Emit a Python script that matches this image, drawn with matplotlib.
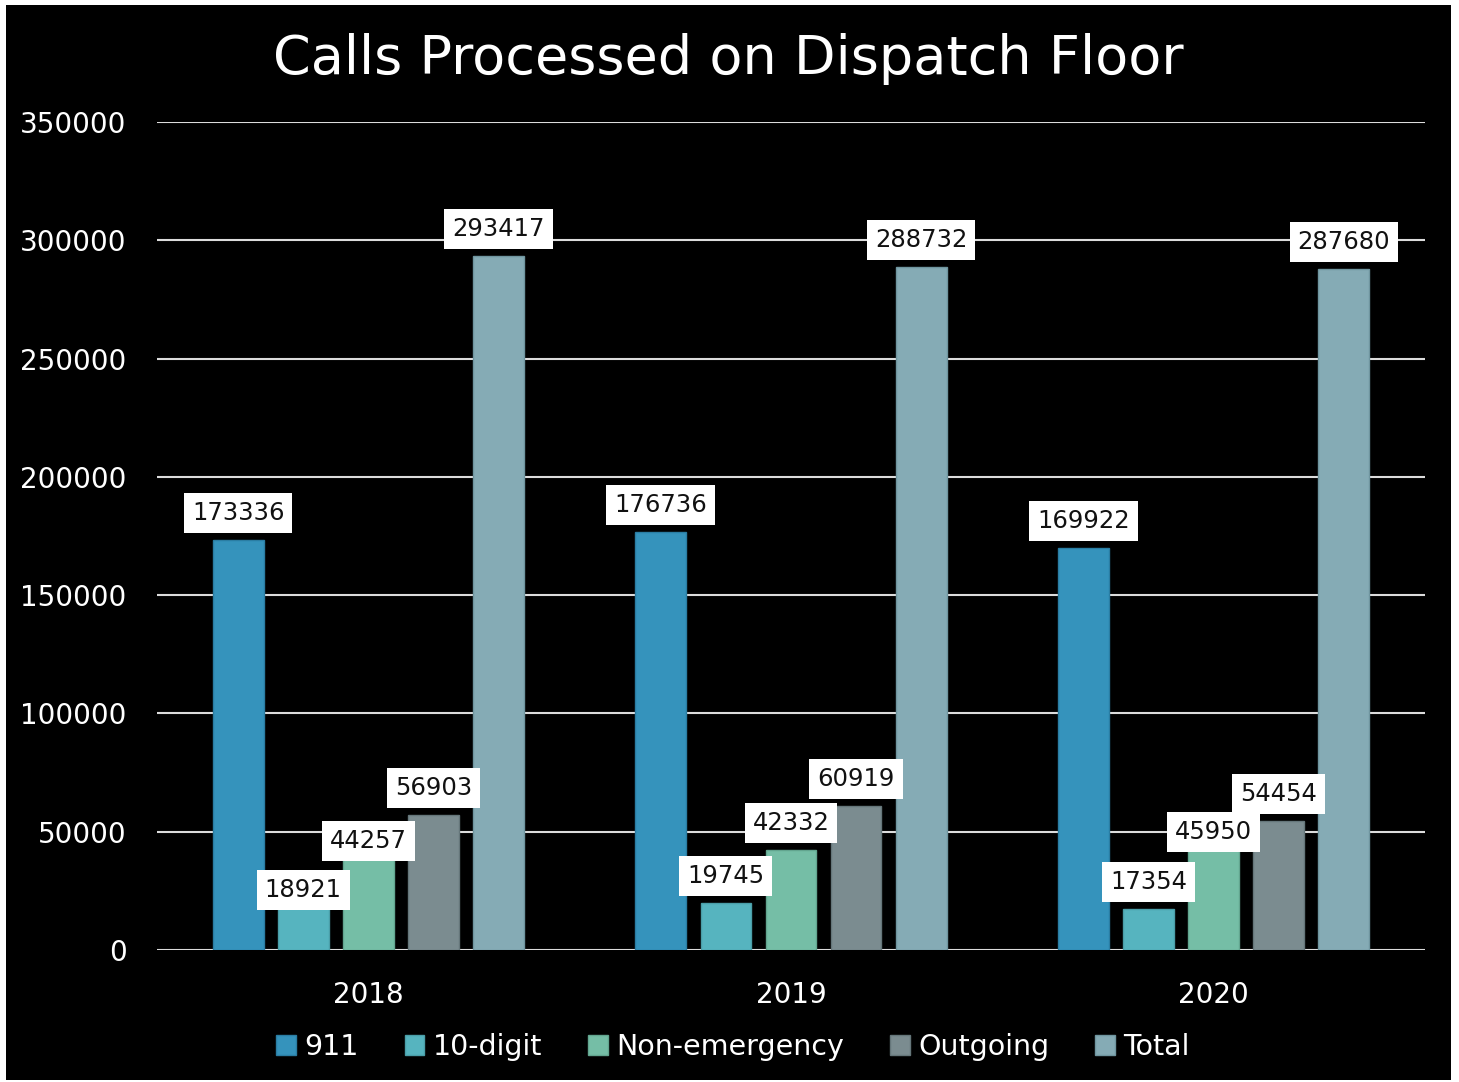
import matplotlib
matplotlib.use("Agg")
import matplotlib.pyplot as plt
from matplotlib.patches import Rectangle
import numpy as np

# Chart data
years = ["2018", "2019", "2020"]
series_names = ["911", "10-digit", "Non-emergency", "Outgoing", "Total"]
calls_911 = [173336, 176736, 169922]
calls_10digit = [18921, 19745, 17354]
calls_nonemerg = [44257, 42332, 45950]
calls_outgoing = [56903, 60919, 54454]
calls_total = [293417, 288732, 287680]
y_ticks = [0, 50000, 100000, 150000, 200000, 250000, 300000, 350000]

colors = ["#3593bc", "#56b4bf", "#75bea6", "#7b8c90", "#85abb5"]
edges = ["#2a7da3", "#4a9ea8", "#62a58f", "#65767a", "#6f959f"]

# label offsets (points above bar top) where the labels got pushed around
label_lift = {(1, 0): 11, (2, 0): 3, (2, 2): 7}
default_lift = 19.5

fig = plt.figure(figsize=(14.59, 10.82), dpi=100, facecolor="white")
# black chart area with thin white margin
fig.patches.append(Rectangle((6 / 1459, 2 / 1082), 1445 / 1459, 1075 / 1082,
                             transform=fig.transFigure, facecolor="black",
                             edgecolor="none", zorder=-10))

ax = fig.add_axes([157 / 1459, 1 - 950 / 1082, 1268 / 1459, 828 / 1082])
ax.set_facecolor("black")

x = np.arange(len(years))
width = 0.12
step = 0.154
all_series = [calls_911, calls_10digit, calls_nonemerg, calls_outgoing, calls_total]

for i, (vals, name) in enumerate(zip(all_series, series_names)):
    pos = x + (i - 2) * step
    ax.bar(pos, vals, width, color=colors[i], edgecolor=edges[i], linewidth=1,
           label=name, zorder=3)
    for j, (px, v) in enumerate(zip(pos, vals)):
        lift = label_lift.get((i, j), default_lift)
        ax.annotate(str(v), (px, v), xytext=(0, lift), textcoords="offset points",
                    ha="center", va="center", fontsize=17.5, color="#111111",
                    bbox=dict(boxstyle="square,pad=0.33", facecolor="white",
                              edgecolor="none"), zorder=5)

ax.set_xlim(-0.5, 2.5)
ax.set_ylim(0, 350000)
ax.set_yticks(y_ticks)
ax.set_yticklabels([str(t) for t in y_ticks], fontsize=20, color="white")
ax.set_xticks(x)
ax.set_xticklabels(years, fontsize=20, color="white")
ax.tick_params(axis="y", length=0, pad=22)
ax.tick_params(axis="x", length=0, pad=22)
ax.yaxis.grid(True, color="#dcdcdc", linewidth=1.5, zorder=1)
for s in ax.spines.values():
    s.set_visible(False)

fig.text(728 / 1459, 1 - 59 / 1082, "Calls Processed on Dispatch Floor",
         ha="center", va="center", fontsize=39, color="white")

fig.legend(loc="center", bbox_to_anchor=(733 / 1459, 1 - 1047 / 1082), ncol=5,
           frameon=False, fontsize=20.5, labelcolor="white", handlelength=0.7,
           handleheight=0.7, handletextpad=0.3, columnspacing=1.6)

plt.savefig("out.png", dpi=100, facecolor=fig.get_facecolor())
